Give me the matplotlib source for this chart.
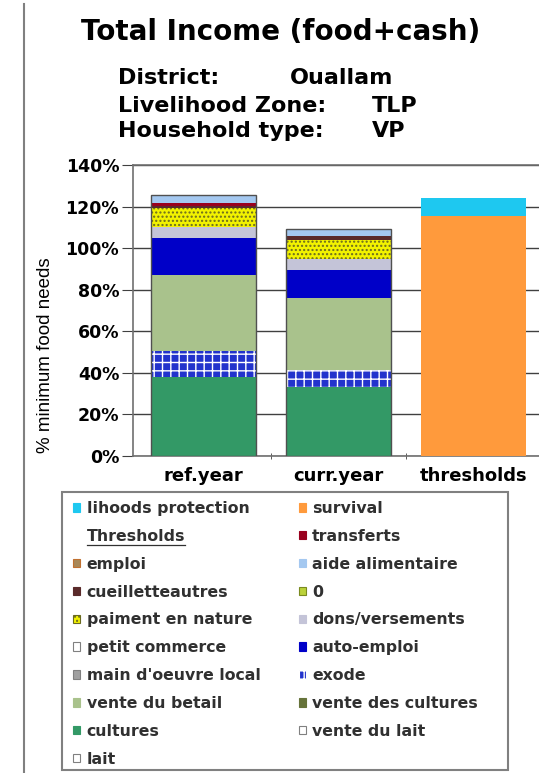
import matplotlib
matplotlib.use("Agg")
import matplotlib.pyplot as plt
from matplotlib.patches import Patch, Rectangle
from matplotlib.lines import Line2D
from matplotlib.ticker import FuncFormatter

plt.rcParams["font.family"] = ["Liberation Sans", "DejaVu Sans"]

categories = ["ref.year", "curr.year", "thresholds"]

# stack order, bottom to top
series_names = [
    "lait", "vente du lait", "cultures", "vente des cultures", "exode",
    "vente du betail", "main d'oeuvre local", "auto-emploi", "petit commerce",
    "dons/versements", "paiment en nature", "0", "cueilletteautres",
    "transferts", "aide alimentaire", "emploi", "survival", "lihoods protection",
]
series_values = {
    "lait": [0, 0, 0],
    "vente du lait": [0, 0, 0],
    "cultures": [38.0, 33.2, 0],
    "vente des cultures": [0, 0, 0],
    "exode": [12.5, 8.0, 0],
    "vente du betail": [36.5, 35.0, 0],
    "main d'oeuvre local": [0, 0, 0],
    "auto-emploi": [18.0, 13.1, 0],
    "petit commerce": [0, 0, 0],
    "dons/versements": [5.0, 5.7, 0],
    "paiment en nature": [9.5, 8.7, 0],
    "0": [0, 0, 0],
    "cueilletteautres": [1.0, 2.4, 0],
    "transferts": [1.2, 0, 0],
    "aide alimentaire": [3.7, 3.3, 0],
    "emploi": [0, 0, 0],
    "survival": [0, 0, 115.3],
    "lihoods protection": [0, 0, 8.7],
}

styles = {
    "lait": dict(fc="white", ec="#808080"),
    "vente du lait": dict(fc="white", ec="#808080"),
    "cultures": dict(fc="#339966", ec="#339966"),
    "vente des cultures": dict(fc="#66733A", ec="#66733A"),
    "exode": dict(fc="#2233CC", ec="white", hatch="++"),
    "vente du betail": dict(fc="#A9C28C", ec="#A9C28C"),
    "main d'oeuvre local": dict(fc="#A0A0A0", ec="#808080"),
    "auto-emploi": dict(fc="#0000C8", ec="#0000C8"),
    "petit commerce": dict(fc="white", ec="#808080"),
    "dons/versements": dict(fc="#C4C4D8", ec="#C4C4D8"),
    "paiment en nature": dict(fc="#F2F200", ec="#6A6A20", hatch="...."),
    "0": dict(fc="#BBD23A", ec="#7A8A20"),
    "cueilletteautres": dict(fc="#5A2A2A", ec="#5A2A2A"),
    "transferts": dict(fc="#99001E", ec="#99001E"),
    "aide alimentaire": dict(fc="#A4C8F0", ec="#A4C8F0"),
    "emploi": dict(fc="#A88858", ec="#C07030"),
    "survival": dict(fc="#FF9A3C", ec="#FF9A3C"),
    "lihoods protection": dict(fc="#1EC8F0", ec="#1EC8F0"),
}

legend_col1 = ["lihoods protection", "Thresholds", "emploi", "cueilletteautres",
               "paiment en nature", "petit commerce", "main d'oeuvre local",
               "vente du betail", "cultures", "lait"]
legend_col2 = ["survival", "transferts", "aide alimentaire", "0", "dons/versements",
               "auto-emploi", "exode", "vente des cultures", "vente du lait"]

fig = plt.figure(figsize=(5.39, 7.73), dpi=100)
ax = fig.add_axes([0.2468, 0.410, 0.762, 0.3765])

x = list(range(len(categories)))
bottom = [0.0] * len(categories)
for name in series_names:
    vals = series_values[name]
    st = styles[name]
    ax.bar(x, vals, width=0.78, bottom=bottom, color=st["fc"], edgecolor=st["ec"],
           hatch=st.get("hatch"), linewidth=0, zorder=3)
    bottom = [b + v for b, v in zip(bottom, vals)]
# outline round the two income stacks
ax.bar(x[:2], bottom[:2], width=0.78, fill=False, edgecolor="#505050",
       linewidth=1.0, zorder=4)

ax.set_ylim(0, 140)
ax.set_xlim(-0.52, 2.52)
ax.set_yticks(range(0, 141, 20))
ax.yaxis.set_major_formatter(FuncFormatter(lambda v, p: f"{int(v)}%"))
ax.yaxis.grid(True, color="#404040", linewidth=1.0, zorder=0)
ax.set_xticks(x)
ax.set_xticklabels(categories, fontsize=13, fontweight="bold", family="DejaVu Sans")
ax.set_xticks([0.5, 1.5], minor=True)
ax.tick_params(axis="x", which="major", length=0, pad=8)
ax.tick_params(axis="x", which="minor", length=4, direction="inout", color="#404040")
ax.tick_params(axis="y", length=8, color="#404040", labelsize=12.5, pad=2)
for lab in ax.get_yticklabels():
    lab.set_fontweight("bold")
    lab.set_family("DejaVu Sans")
for s in ax.spines.values():
    s.set_color("#707070")
    s.set_linewidth(1.2)
ax.set_ylabel("% minimum food needs", fontsize=13.5)
ax.yaxis.set_label_coords(-0.192, 0.347)

# title and header
fig.text(0.52, 0.958, "Total Income (food+cash)", ha="center", va="center",
         fontsize=20, fontweight="bold", family="DejaVu Sans")
hdr = [("District:", "Ouallam", 0.538, 0.899), ("Livelihood Zone:", "TLP", 0.69, 0.863),
       ("Household type:", "VP", 0.69, 0.8305)]
for k, v, xv, yy in hdr:
    fig.text(0.219, yy, k, ha="left", va="center", fontsize=16, fontweight="bold",
             family="DejaVu Sans")
    fig.text(xv, yy, v, ha="left", va="center", fontsize=16, fontweight="bold",
             family="DejaVu Sans")

# legend
def make_handle(name):
    if name == "Thresholds":
        return Patch(facecolor="none", edgecolor="none")
    st = styles[name]
    return Patch(facecolor=st["fc"], edgecolor=st["ec"] if st["fc"] != "white" else "#808080",
                 hatch=st.get("hatch"), linewidth=0.8)

leg_kw = dict(loc="upper left", frameon=False, handlelength=0.45, handleheight=0.45,
              handletextpad=0.4, labelspacing=0.82, borderpad=0.0, borderaxespad=0.0,
              prop={"family": "DejaVu Sans", "weight": "bold", "size": 11.3})
leg1 = fig.legend([make_handle(n) for n in legend_col1], legend_col1,
                  bbox_to_anchor=(0.136, 0.352), **leg_kw)
leg2 = fig.legend([make_handle(n) for n in legend_col2], legend_col2,
                  bbox_to_anchor=(0.554, 0.352), **leg_kw)
for lg in (leg1, leg2):
    for t in lg.get_texts():
        t.set_color("#303030")

fig.add_artist(Rectangle((0.115, 0.004), 0.8275, 0.3595, transform=fig.transFigure,
                         fill=False, edgecolor="#808080", linewidth=1.5))

fig.canvas.draw()
thr = leg1.get_texts()[1]
bb = thr.get_window_extent().transformed(fig.transFigure.inverted())
fig.add_artist(Line2D([bb.x0, bb.x1], [bb.y0 - 0.002, bb.y0 - 0.002],
                      color="#303030", linewidth=0.9))

# left border line
fig.add_artist(Line2D([0.045, 0.045], [0.0, 0.995], color="#808080", linewidth=1.5))

fig.savefig("out.png", dpi=100)
